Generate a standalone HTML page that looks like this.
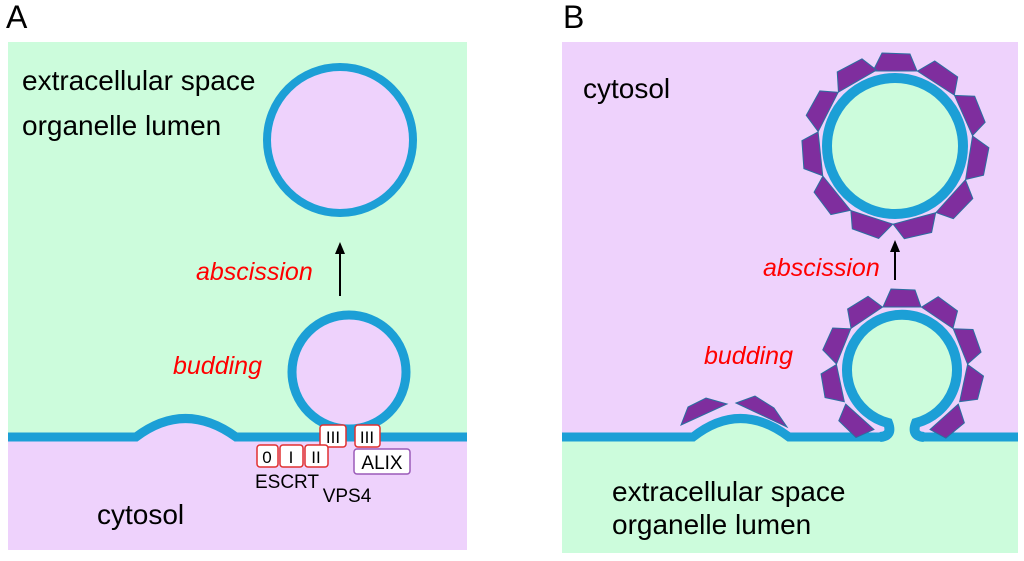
<!DOCTYPE html>
<html><head><style>
body{margin:0;background:#fff;}
svg{display:block;font-family:"Liberation Sans",sans-serif;}
</style></head><body>
<svg width="1024" height="561" viewBox="0 0 1024 561">
<defs>
<polygon id="tz" points="-22,-75 22,-75 15,-92 -13,-93" fill="#7f2e9e" stroke="#2a6fa0" stroke-width="1"/>
<polygon id="tz2" points="-19,-63 19,-63 13,-80 -11,-81" fill="#7f2e9e" stroke="#2a6fa0" stroke-width="1"/>
</defs>
<!-- Panel A -->
<rect x="8" y="42" width="459" height="396" fill="#ccfcdc"/>
<rect x="8" y="438" width="459" height="112" fill="#eed2fc"/>
<path d="M136,440 Q185,398 236,440 Z" fill="#eed2fc"/>
<path d="M8,437 L136,437 Q185,400 236,437 L467,437" fill="none" stroke="#1c9fd6" stroke-width="9"/>
<circle cx="340" cy="140" r="73" fill="#eed2fc" stroke="#1c9fd6" stroke-width="8"/>
<circle cx="349" cy="372" r="57" fill="#eed2fc" stroke="#1c9fd6" stroke-width="9"/>
<line x1="340" y1="296" x2="340" y2="252" stroke="#000" stroke-width="2"/>
<polygon points="335,254 345,254 340,242" fill="#000"/>
<text x="6" y="28" font-size="32">A</text>
<text x="22" y="90" font-size="28">extracellular space</text>
<text x="22" y="135" font-size="28">organelle lumen</text>
<text x="196" y="280" font-size="25" fill="#f00" font-style="italic">abscission</text>
<text x="173" y="374" font-size="25" fill="#f00" font-style="italic">budding</text>
<text x="97" y="524" font-size="28">cytosol</text>
<g font-size="17" text-anchor="middle">
<rect x="320" y="425" width="26" height="22" rx="3" fill="#fff" stroke="#e03030" stroke-width="1.5"/><text x="333" y="443">III</text>
<rect x="355" y="425" width="25" height="22" rx="3" fill="#fff" stroke="#e03030" stroke-width="1.5"/><text x="367" y="443">III</text>
<rect x="257" y="445" width="21" height="22" rx="3" fill="#fff" stroke="#e03030" stroke-width="1.5"/><text x="267" y="463">0</text>
<rect x="280" y="445" width="23" height="22" rx="3" fill="#fff" stroke="#e03030" stroke-width="1.5"/><text x="291" y="463">I</text>
<rect x="305" y="445" width="23" height="22" rx="3" fill="#fff" stroke="#e03030" stroke-width="1.5"/><text x="316" y="463">II</text>
<rect x="354" y="449" width="56" height="25" rx="3" fill="#fff" stroke="#9a5ab8" stroke-width="1.5"/><text x="382" y="469" font-size="19">ALIX</text>
<text x="287" y="488" font-size="19">ESCRT</text>
<text x="347" y="502" font-size="19">VPS4</text>
</g>
<!-- Panel B -->
<rect x="562" y="42" width="456" height="398" fill="#eed2fc"/>
<rect x="562" y="440" width="456" height="113" fill="#ccfcdc"/>
<path d="M693,441 Q740,398 789,441 Z" fill="#ccfcdc"/>
<path d="M562,437 L693,437 Q740,400 789,437 L884,437" fill="none" stroke="#1c9fd6" stroke-width="9"/>
<path d="M920,437 L1018,437" fill="none" stroke="#1c9fd6" stroke-width="9"/>
<rect x="890" y="425" width="24" height="20" fill="#ccfcdc"/>
<path d="M880,437 Q893,436 888,423 A55 55 0 1 1 916,423 Q911,436 924,437" fill="#ccfcdc" stroke="#1c9fd6" stroke-width="10"/>
<polygon points="681,425 688,407 706,398 727,404" fill="#7f2e9e" stroke="#2a6fa0"/>
<polygon points="736,403 755,396 774,408 787,427" fill="#7f2e9e" stroke="#2a6fa0"/>
<circle cx="895" cy="146" r="68" fill="#ccfcdc" stroke="#1c9fd6" stroke-width="10"/>
<g transform="translate(895,146)">
<use href="#tz"/><use href="#tz" transform="rotate(33)"/><use href="#tz" transform="rotate(66)"/><use href="#tz" transform="rotate(99)"/><use href="#tz" transform="rotate(132)"/><use href="#tz" transform="rotate(165)"/><use href="#tz" transform="rotate(198)"/><use href="#tz" transform="rotate(231)"/><use href="#tz" transform="rotate(264)"/><use href="#tz" transform="rotate(297)"/><use href="#tz" transform="rotate(330)"/>
</g>
<g transform="translate(902,370)">
<use href="#tz2"/><use href="#tz2" transform="rotate(34)"/><use href="#tz2" transform="rotate(68)"/><use href="#tz2" transform="rotate(102)"/><use href="#tz2" transform="rotate(138)"/><use href="#tz2" transform="rotate(-34)"/><use href="#tz2" transform="rotate(-68)"/><use href="#tz2" transform="rotate(-102)"/><use href="#tz2" transform="rotate(-138)"/>
</g>
<line x1="895" y1="280" x2="895" y2="250" stroke="#000" stroke-width="2"/>
<polygon points="890,252 900,252 895,240" fill="#000"/>
<text x="563" y="28" font-size="32">B</text>
<text x="583" y="98" font-size="28">cytosol</text>
<text x="763" y="276" font-size="25" fill="#f00" font-style="italic">abscission</text>
<text x="704" y="364" font-size="25" fill="#f00" font-style="italic">budding</text>
<text x="612" y="501" font-size="28">extracellular space</text>
<text x="612" y="534" font-size="28">organelle lumen</text>
</svg>
</body></html>
